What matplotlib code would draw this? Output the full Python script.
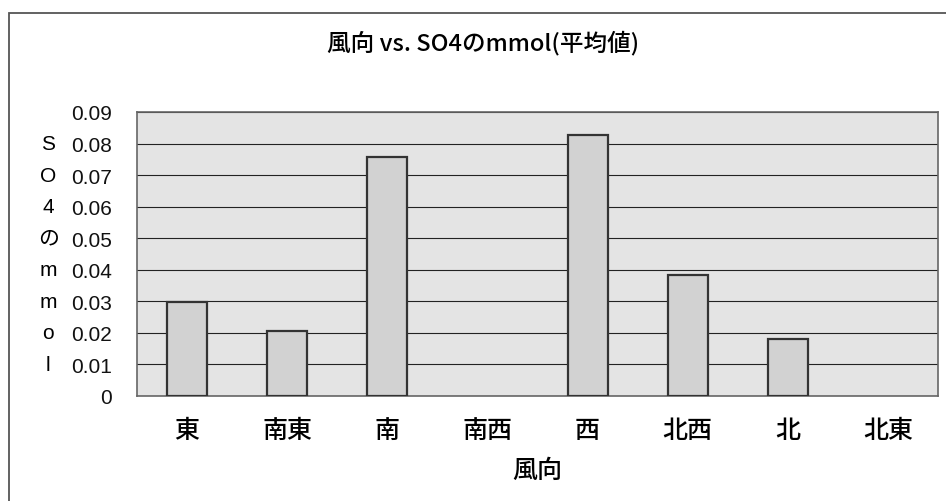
import matplotlib
matplotlib.use("Agg")
import matplotlib.pyplot as plt
from matplotlib.patches import Rectangle
import numpy as np

plt.rcParams['font.family'] = ['Noto Sans CJK JP', 'DejaVu Sans']

# data
directions = ['東', '南東', '南', '南西', '西', '北西', '北', '北東']
so4_mmol = [0.0297, 0.0207, 0.0757, 0.0, 0.0826, 0.0382, 0.0180, 0.0]
yticks = [0, 0.01, 0.02, 0.03, 0.04, 0.05, 0.06, 0.07, 0.08, 0.09]
ytick_labels = ['0', '0.01', '0.02', '0.03', '0.04', '0.05', '0.06', '0.07', '0.08', '0.09']
ylabel_chars = ['S', 'O', '4', 'の', 'm', 'm', 'o', 'l']

fig = plt.figure(figsize=(9.46, 5.02), dpi=100)
fig.patch.set_facecolor('white')

# chart area border (cut off on the right and bottom in the scan)
fig.add_artist(Rectangle((9 / 946, -0.1), 1.2, 1.1 - 14 / 502, transform=fig.transFigure,
                         fill=False, ec='#555555', lw=1.3))

ax = fig.add_axes([137 / 946, 105 / 502, 801 / 946, 284 / 502])
ax.set_facecolor('#e4e4e4')

x = np.arange(len(directions))
edge_w = [1.6 if v > 0 else 0 for v in so4_mmol]
ax.bar(x, so4_mmol, width=0.4, color='#d2d2d2', edgecolor='#333333', linewidth=edge_w, zorder=3)

ax.set_xlim(-0.5, len(directions) - 0.5)
ax.set_ylim(0, 0.09)
ax.set_yticks(yticks)
ax.set_yticklabels(ytick_labels, family=['Liberation Sans', 'DejaVu Sans'], fontsize=15,
                   color='#111111')
ax.set_xticks(x)
ax.set_xticklabels(directions, fontsize=18, fontweight='medium')
ax.tick_params(axis='y', length=0, pad=18)
ax.tick_params(axis='x', length=0, pad=15)
ax.yaxis.grid(True, color='#222222', linewidth=0.8, zorder=1)
ax.set_axisbelow(True)
for s in ax.spines.values():
    s.set_color('#666666')
    s.set_linewidth(1.2)

ax.set_xlabel('風向', fontsize=18, fontweight='medium', labelpad=10)

# vertical stacked y-axis label, one char per gridline row
for i, ch in enumerate(ylabel_chars):
    ax.text(-0.111, yticks[-2 - i], ch, transform=ax.get_yaxis_transform(),
            ha='center', va='center', fontsize=15,
            family=['Liberation Sans', 'Noto Sans CJK JP'])

fig.text(0.511, 0.914, '風向 vs. SO4のmmol(平均値)', ha='center', va='center',
         fontsize=17, fontweight='medium')

fig.savefig('out.png', dpi=100)
